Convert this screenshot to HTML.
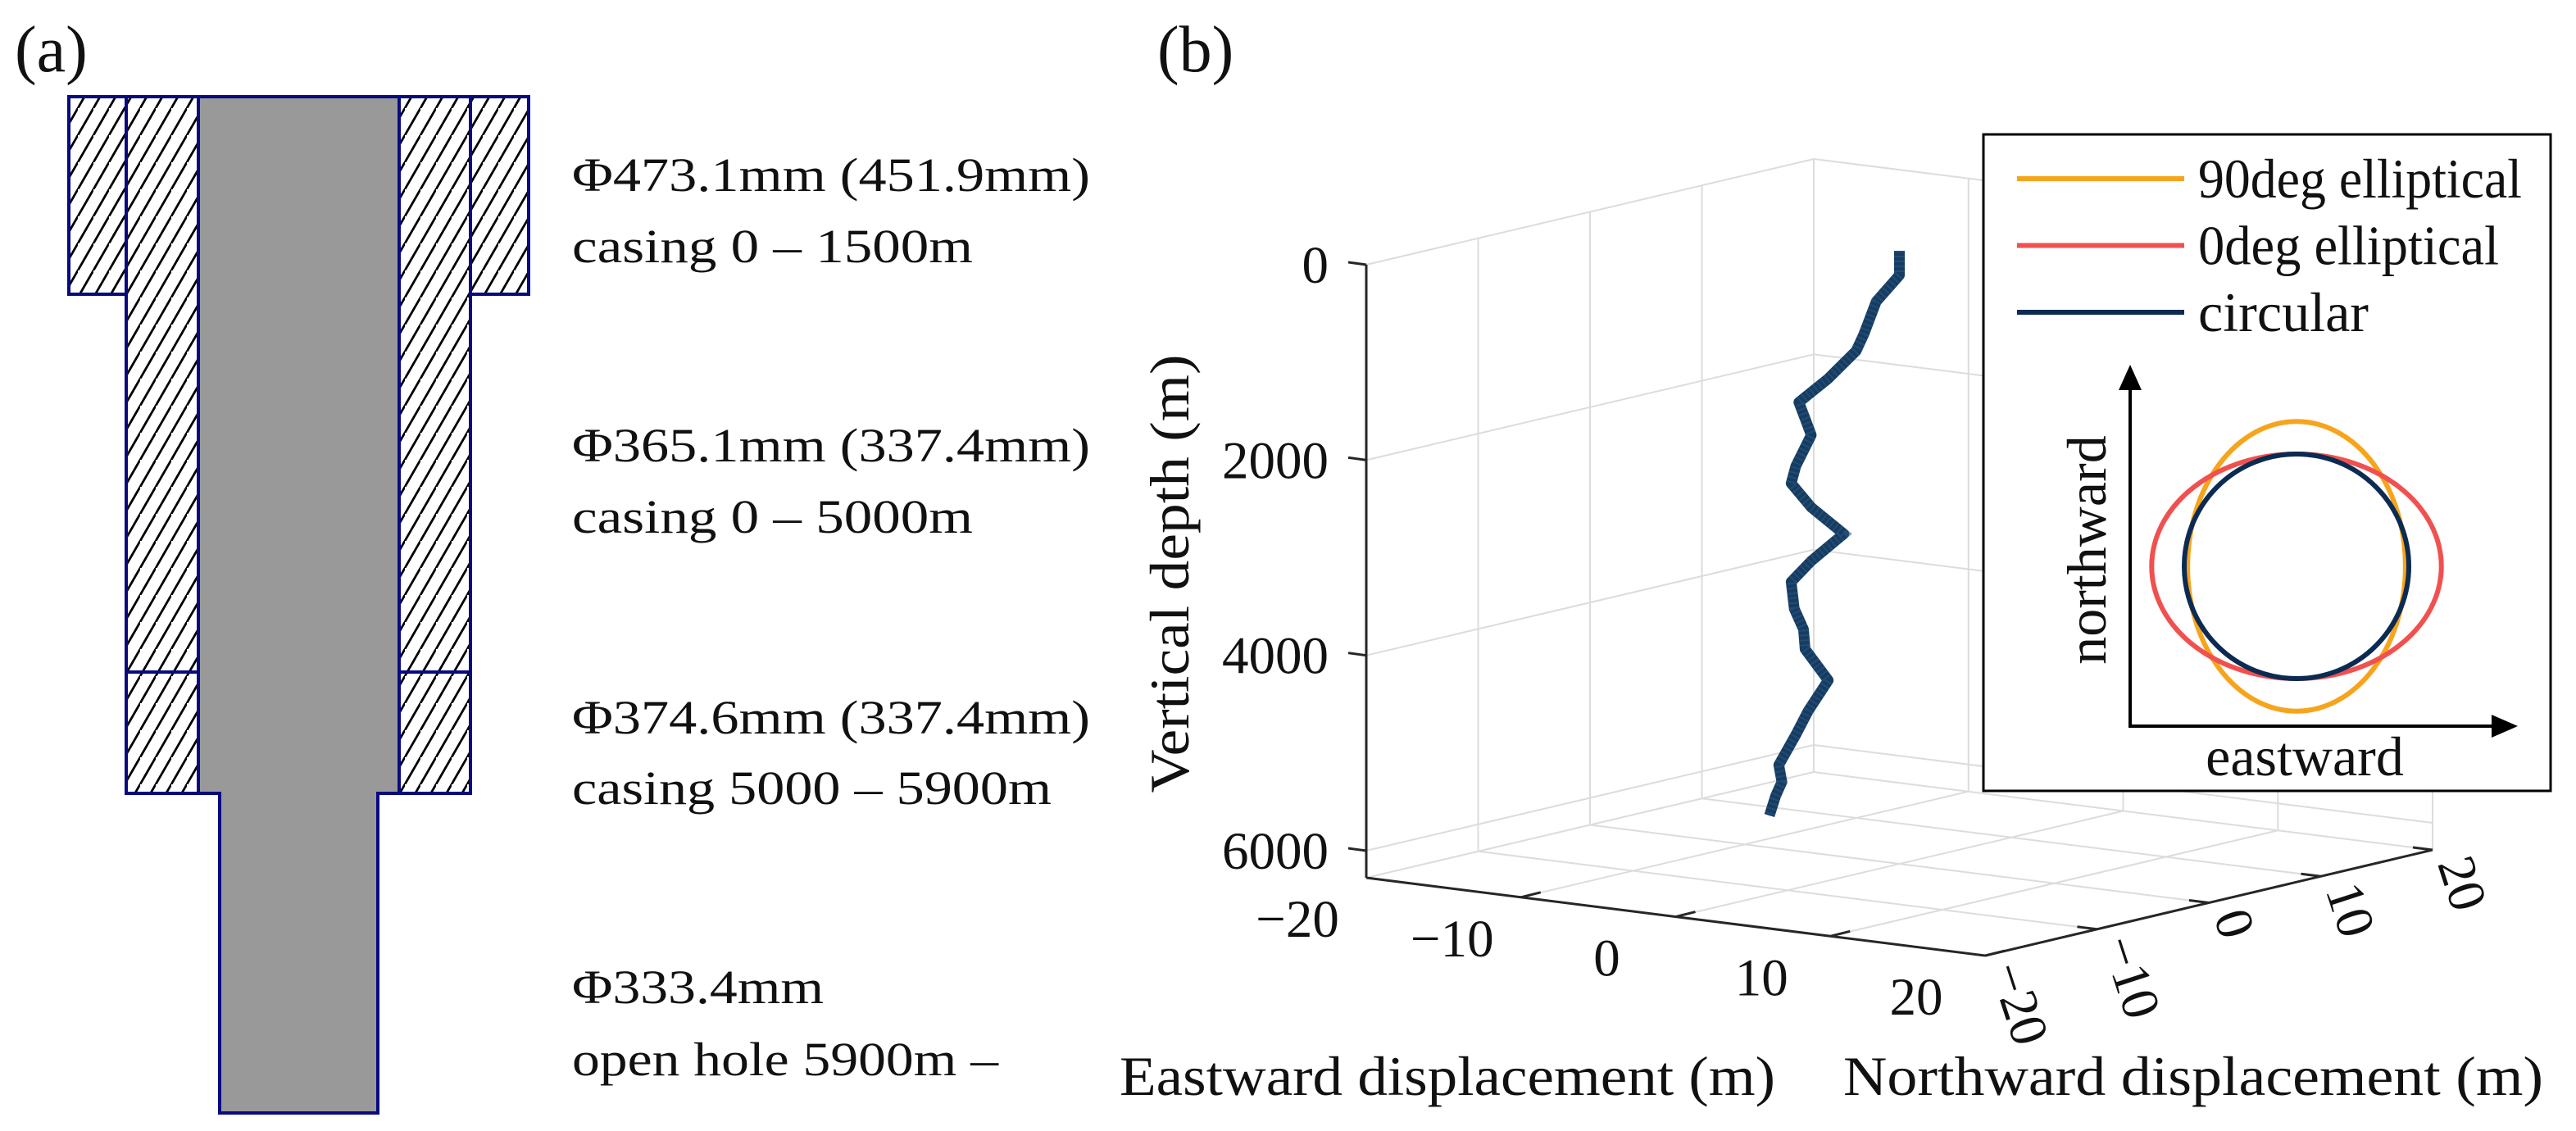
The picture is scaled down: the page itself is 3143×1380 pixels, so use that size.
<!DOCTYPE html>
<html>
<head>
<meta charset="utf-8">
<style>
  html,body{margin:0;padding:0;background:#fff;}
  svg{display:block;}
  text{font-family:"Liberation Serif","DejaVu Serif",serif;fill:#111;}
</style>
</head>
<body>
<svg id="fig" width="3143" height="1380" viewBox="0 0 3143 1380" xmlns="http://www.w3.org/2000/svg">
  <defs>
    <pattern id="hatch" patternUnits="userSpaceOnUse" width="19" height="33">
      <line x1="-19" y1="66" x2="19" y2="0" stroke="#000" stroke-width="2.6"/>
      <line x1="0" y1="33" x2="19" y2="0" stroke="#000" stroke-width="2.6"/>
      <line x1="0" y1="66" x2="38" y2="0" stroke="#000" stroke-width="2.6"/>
    </pattern>
  </defs>

  <!-- Panel (a) -->
  <g>
    <text x="18" y="87" font-size="80">(a)</text>
    <g stroke="#0a0a80" stroke-width="4">
      <rect x="84" y="118" width="70" height="241" fill="url(#hatch)"/>
      <rect x="574" y="118" width="71" height="241" fill="url(#hatch)"/>
      <rect x="154" y="118" width="88" height="702" fill="url(#hatch)"/>
      <rect x="487" y="118" width="87" height="702" fill="url(#hatch)"/>
      <rect x="154" y="820" width="88" height="148" fill="url(#hatch)"/>
      <rect x="487" y="820" width="87" height="148" fill="url(#hatch)"/>
      <path d="M242 118 L487 118 L487 968 L461 968 L461 1358 L268 1358 L268 968 L242 968 Z" fill="#999999"/>
    </g>
    <g font-size="58">
      <text x="698" y="233" textLength="632" lengthAdjust="spacingAndGlyphs">Φ473.1mm (451.9mm)</text>
      <text x="698" y="320" textLength="489" lengthAdjust="spacingAndGlyphs">casing 0 – 1500m</text>
      <text x="698" y="563" textLength="632" lengthAdjust="spacingAndGlyphs">Φ365.1mm (337.4mm)</text>
      <text x="698" y="650" textLength="489" lengthAdjust="spacingAndGlyphs">casing 0 – 5000m</text>
      <text x="698" y="895" textLength="632" lengthAdjust="spacingAndGlyphs">Φ374.6mm (337.4mm)</text>
      <text x="698" y="981" textLength="585" lengthAdjust="spacingAndGlyphs">casing 5000 – 5900m</text>
      <text x="698" y="1224" textLength="307" lengthAdjust="spacingAndGlyphs">Φ333.4mm</text>
      <text x="698" y="1312" textLength="520" lengthAdjust="spacingAndGlyphs">open hole 5900m –</text>
    </g>
  </g>

  <!-- Panel (b) -->
  <g>
    <text x="1412" y="87" font-size="80">(b)</text>
    <g id="grid"></g>
    <g id="axes"></g>
    <g id="series"></g>
    <text transform="translate(1450,700) rotate(-90)" text-anchor="middle" font-size="68" textLength="535" lengthAdjust="spacingAndGlyphs">Vertical depth (m)</text>
    <text x="1366" y="1336" font-size="68" textLength="800" lengthAdjust="spacingAndGlyphs">Eastward displacement (m)</text>
    <text x="2249" y="1336" font-size="68" textLength="854" lengthAdjust="spacingAndGlyphs">Northward displacement (m)</text>
    <g id="inset"></g>
  </g>

<script>
// ---- Data ----
const zTicks = [0, 2000, 4000, 6000];
const zTickLabels = ["0", "2000", "4000", "6000"];
const eastTicks = [-20, -10, 0, 10, 20];
const eastTickLabels = ["\u221220", "\u221210", "0", "10", "20"];
const northTicks = [-20, -10, 0, 10, 20];
const northTickLabels = ["\u221220", "\u221210", "0", "10", "20"];
const trajDepth = [0, 250, 550, 900, 1080, 1400, 1680, 1840, 2000, 2340, 2520, 2740, 2970, 3290, 3530, 3800, 4000, 4200, 4490, 4830, 5090, 5420, 5590, 5740, 5950];
const trajEast  = [0, 0, -1.5, -2.3, -2.8, -4.6, -6.5, -6.1, -5.7, -6.7, -7.0, -5.7, -3.6, -5.7, -7.0, -6.8, -6.2, -6.1, -4.6, -5.9, -6.7, -7.8, -7.6, -8.0, -8.4];
const trajNorth = [0, 0, 0, 0, 0, 0, 0, 0, 0, 0, 0, 0, 0, 0, 0, 0, 0, 0, 0, 0, 0, 0, 0, 0, 0];
const legendLabels = ["90deg elliptical", "0deg elliptical", "circular"];
const legendLabelWidths = [395, 367, 208];
const legendColors = ["#f7a41d", "#f0514f", "#0c2b52"];
const shapeEastAxis = [0.97, 1.29, 1.0];
const shapeNorthAxis = [1.29, 1.0, 1.0];

// ---- Axis/projection functions ----
const ZMAX = 6277;
function px(e, n, z) { return 1667 + (e + 20) * 18.875 + (n + 20) * 13.65; }
function py(e, n, z) { return 323 + z * 0.11917 + (e + 20) * 2.375 - (n + 20) * 3.225; }

const NS = "http://www.w3.org/2000/svg";
function mk(tag, attrs, parent) {
  const el = document.createElementNS(NS, tag);
  for (const k in attrs) el.setAttribute(k, attrs[k]);
  parent.appendChild(el);
  return el;
}
const grid = document.getElementById("grid");
const axes = document.getElementById("axes");
const series = document.getElementById("series");
const inset = document.getElementById("inset");
const GC = "#dcdcdc";
function seg(parent, e1, n1, z1, e2, n2, z2, stroke, w) {
  return mk("line", {x1: px(e1,n1,z1), y1: py(e1,n1,z1), x2: px(e2,n2,z2), y2: py(e2,n2,z2), stroke: stroke, "stroke-width": w}, parent);
}

northTicks.forEach(n => {
  if (n === -20) return;
  const l = seg(grid, -20, n, 0, -20, n, ZMAX, GC, 2);
  
  
});
zTicks.forEach(z => {
  const l = seg(grid, -20, -20, z, -20, 20, z, GC, 2);
  
  
  const l2 = seg(grid, -20, 20, z, 20, 20, z, GC, 2);
  
  
});
eastTicks.forEach(e => {
  const l = seg(grid, e, 20, 0, e, 20, ZMAX, GC, 2);
  
  
  const f = seg(grid, e, -20, ZMAX, e, 20, ZMAX, GC, 2);
  
  
});
northTicks.forEach(n => {
  const f = seg(grid, -20, n, ZMAX, 20, n, ZMAX, GC, 2);
  
  
});

const AX = "#262626";
let a1 = seg(axes, -20, -20, 0, -20, -20, ZMAX, AX, 3);


let a2 = seg(axes, -20, -20, ZMAX, 20, -20, ZMAX, AX, 3);


let a3 = seg(axes, 20, -20, ZMAX, 20, 20, ZMAX, AX, 3);



zTicks.forEach((z, i) => {
  const x = px(-20, -20, z), y = py(-20, -20, z);
  const t = mk("line", {x1: x, y1: y, x2: x - 22, y2: y - 3, stroke: AX, "stroke-width": 3}, axes);
  
  
  const lb = mk("text", {x: 1621, y: y + 22, "text-anchor": "end", "font-size": 65}, axes);
  lb.textContent = zTickLabels[i];
  
  
});
eastTicks.forEach((e, i) => {
  const x = px(e, -20, ZMAX), y = py(e, -20, ZMAX);
  if (e !== -20) {
    const t = mk("line", {x1: x, y1: y, x2: x + 24, y2: y - 6, stroke: AX, "stroke-width": 3}, axes);
    
    
  }
  const lb = mk("text", {x: x - 84, y: y + 72, "text-anchor": "middle", "font-size": 65}, axes);
  lb.textContent = eastTickLabels[i];
  
  
});
northTicks.forEach((n, i) => {
  const x = px(20, n, ZMAX), y = py(20, n, ZMAX);
  if (n !== -20) {
    const t = mk("line", {x1: x, y1: y, x2: x - 24, y2: y - 3, stroke: AX, "stroke-width": 3}, axes);
    
    
  }
  const lb = mk("text", {transform: `translate(${x + 20},${y + 12}) rotate(72)`, "dominant-baseline": "middle", "font-size": 65}, axes);
  lb.textContent = northTickLabels[i];
  
  
});

let d = "";
trajDepth.forEach((z, i) => {
  d += (i ? " L" : "M") + px(trajEast[i], trajNorth[i], z).toFixed(1) + " " + py(trajEast[i], trajNorth[i], z).toFixed(1);
});
const tr = mk("path", {d: d, fill: "none", stroke: "#163c62", "stroke-width": 13, "stroke-linejoin": "round"}, series);


const tr2 = mk("path", {d: d, fill: "none", stroke: "#2c5680", "stroke-width": 13, "stroke-dasharray": "2 4", "opacity": 0.6}, series);



const box = mk("rect", {x: 2420, y: 164, width: 692, height: 801, fill: "#fff", stroke: "#000", "stroke-width": 3}, inset);


legendLabels.forEach((lab, i) => {
  const y = 218 + i * 81.5;
  const ln = mk("line", {x1: 2461, y1: y, x2: 2665, y2: y, stroke: legendColors[i], "stroke-width": 6}, inset);
  
  
  const tx = mk("text", {x: 2682, y: y + 23, "font-size": 68, textLength: legendLabelWidths[i], lengthAdjust: "spacingAndGlyphs"}, inset);
  tx.textContent = lab;
  
  
});
const va = mk("line", {x1: 2599, y1: 886, x2: 2599, y2: 470, stroke: "#000", "stroke-width": 4}, inset);


const vh = mk("polygon", {points: "2599,445 2585,476 2613,476", fill: "#000"}, inset);


const ha = mk("line", {x1: 2597, y1: 886, x2: 3045, y2: 886, stroke: "#000", "stroke-width": 4}, inset);


const hh = mk("polygon", {points: "3072,886 3040,872 3040,900", fill: "#000"}, inset);


legendLabels.forEach((lab, i) => {
  const el = mk("ellipse", {cx: 2802, cy: 691, rx: 137 * shapeEastAxis[i], ry: 137 * shapeNorthAxis[i], fill: "none", stroke: legendColors[i], "stroke-width": 6}, inset);
  
  
});
const nl = mk("text", {transform: "translate(2569,671) rotate(-90)", "text-anchor": "middle", "font-size": 68}, inset);
nl.textContent = "northward";


const el2 = mk("text", {x: 2812, y: 946, "text-anchor": "middle", "font-size": 68}, inset);
el2.textContent = "eastward";


</script>
</svg>
</body>
</html>
